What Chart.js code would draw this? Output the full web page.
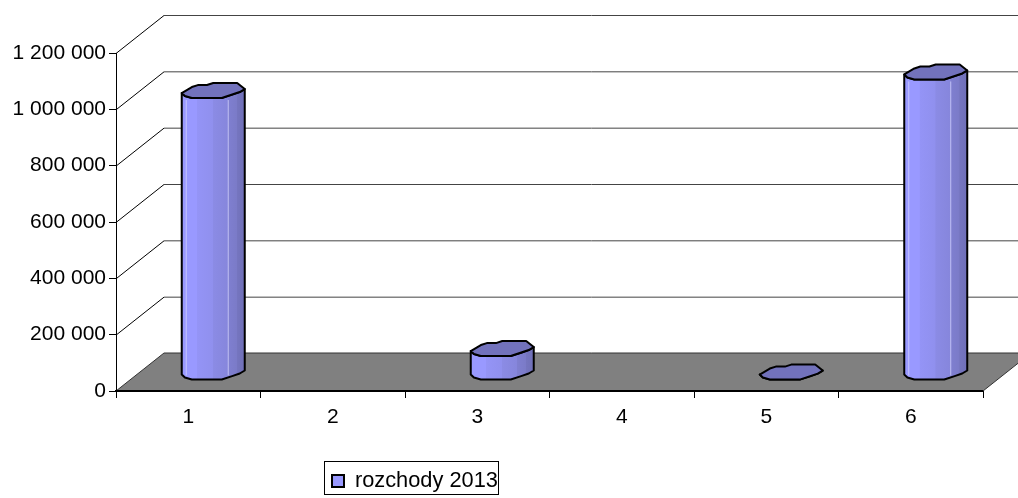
<!DOCTYPE html>
<html>
<head>
<meta charset="utf-8">
<style>html,body{margin:0;padding:0;background:#fff}canvas{display:block}</style>
<script src="https://cdn.jsdelivr.net/npm/chart.js@4"></script>
</head>
<body>
<canvas id="c" width="1018" height="498"></canvas>
<script>
const categories = ['1','2','3','4','5','6'];
const seriesName = 'rozchody 2013';
const values = [1001000, null, 85000, null, 1500, 1067000];
const yMax = 1200000;
const yStep = 200000;

const FONT = 'Liberation Sans';
const DEPTH_X = 48, DEPTH_Y = 38;
const MID_X = 25, MID_Y = 18.5;
// outline of the faceted cylinder cross-section, as fractions of half width / half depth
const TOP_SHAPE = [[-1,.33],[-.68,-.47],[-.49,-.73],[-.2,-.73],[0,-1],[.76,-1],[1,-.2],[.84,.2],[.27,1],[-.68,1],[-.9,.73]];
const FRONT_SHAPE = [[-1,.33],[-.9,.73],[-.68,1],[.27,1],[.6,.55],[.84,.2],[1,-.2]];
const HALF_DEPTH = 7.5;

const scene = {
  id: 'scene',
  afterLayout(chart) {
    const l = chart.legend;
    l.left = 324; l.right = 498; l.top = 462; l.bottom = 494;
    l.width = 174; l.height = 32;
  },
  beforeDatasetsDraw(chart) {
    const {ctx, scales:{x,y}, chartArea:a} = chart;
    ctx.save();
    ctx.beginPath(); ctx.rect(0,0,1018,498); ctx.clip();
    y.ticks.forEach(t => {
      const py = y.getPixelForValue(t.value);
      if (t.value === 0) return;
      ctx.beginPath();
      ctx.lineWidth = 1; ctx.strokeStyle = '#000';
      ctx.moveTo(a.left, py+.5); ctx.lineTo(a.left+DEPTH_X, py-DEPTH_Y+.5);
      ctx.stroke();
      ctx.beginPath();
      ctx.strokeStyle = '#444';
      ctx.moveTo(a.left+DEPTH_X, py-DEPTH_Y+.5); ctx.lineTo(a.right+DEPTH_X, py-DEPTH_Y+.5);
      ctx.stroke();
    });
    const by = y.getPixelForValue(0);
    ctx.beginPath();
    ctx.moveTo(a.left, by);
    ctx.lineTo(a.left+DEPTH_X, by-DEPTH_Y);
    ctx.lineTo(a.right+DEPTH_X, by-DEPTH_Y);
    ctx.lineTo(a.right, by);
    ctx.closePath();
    ctx.fillStyle = '#808080'; ctx.fill();
    ctx.lineWidth = 1; ctx.strokeStyle = '#333'; ctx.stroke();
    ctx.beginPath(); ctx.moveTo(a.left, by); ctx.lineTo(a.right, by);
    ctx.lineWidth = 2; ctx.strokeStyle = '#000'; ctx.stroke();
    ctx.restore();
  },
  afterDatasetsDraw(chart) {
    const {ctx} = chart;
    chart.getDatasetMeta(0).data.forEach((bar, i) => {
      if (values[i] === null) return;
      const p = bar.getProps(['x','y','base','width'], false);
      const cx = p.x + MID_X, hw = p.width / 2;
      const topY = p.y - MID_Y, botY = p.base - MID_Y;
      const pt = (s, cy) => [cx + s[0]*hw, cy + s[1]*HALF_DEPTH];
      const sidePath = () => {
        ctx.beginPath();
        ctx.moveTo(...pt(FRONT_SHAPE[0], topY));
        FRONT_SHAPE.forEach(s => ctx.lineTo(...pt(s, botY)));
        [...FRONT_SHAPE].reverse().forEach(s => ctx.lineTo(...pt(s, topY)));
        ctx.closePath();
      };
      ctx.save();
      ctx.lineJoin = 'round';
      sidePath();
      const g = ctx.createLinearGradient(cx-hw, 0, cx+hw, 0);
      [[0,'#9999ff'],[.24,'#9999ff'],[.25,'#9494f6'],[.49,'#9090ee'],[.5,'#8b8be5'],[.73,'#8686dc'],[.74,'#7f7fd0'],[.87,'#7b7bc8'],[.88,'#7575bf'],[1,'#7070b8']]
        .forEach(c => g.addColorStop(c[0], c[1]));
      ctx.fillStyle = g; ctx.fill();
      if (botY - topY > 30) {
        ctx.strokeStyle = 'rgba(214,214,255,.75)'; ctx.lineWidth = 1;
        [4.5, 46.5].forEach(dx => {
          ctx.beginPath();
          ctx.moveTo(cx-hw+dx, topY+HALF_DEPTH+2);
          ctx.lineTo(cx-hw+dx, botY+HALF_DEPTH-4);
          ctx.stroke();
        });
      }
      sidePath();
      ctx.lineWidth = 2; ctx.strokeStyle = '#000'; ctx.stroke();
      ctx.beginPath();
      TOP_SHAPE.forEach((s,k) => k ? ctx.lineTo(...pt(s, topY)) : ctx.moveTo(...pt(s, topY)));
      ctx.closePath();
      ctx.fillStyle = '#7272bc'; ctx.fill();
      ctx.lineWidth = 2; ctx.strokeStyle = '#000'; ctx.stroke();
      ctx.restore();
    });
  },
  afterDraw(chart) {
    const {ctx} = chart, l = chart.legend;
    ctx.save();
    ctx.strokeStyle = '#000'; ctx.lineWidth = 1;
    ctx.strokeRect(l.left+.5, 461.5, l.right-l.left, 33);
    ctx.restore();
  }
};

new Chart(document.getElementById('c'), {
  type: 'bar',
  data: {
    labels: categories,
    datasets: [{
      label: seriesName,
      data: values,
      backgroundColor: 'rgba(0,0,0,0)',
      borderWidth: 0,
      categoryPercentage: 1,
      barPercentage: 0.436
    }]
  },
  plugins: [scene],
  options: {
    responsive: false,
    animation: false,
    devicePixelRatio: 1,
    layout: { padding: { left: 0, top: 53, right: 35, bottom: 0 } },
    plugins: {
      tooltip: { enabled: false },
      legend: {
        position: 'chartArea',
        align: 'start',
        labels: {
          boxWidth: 12, boxHeight: 12, padding: 8,
          color: '#000',
          font: { family: FONT, size: 21.8 },
          generateLabels: () => [{
            text: seriesName, fillStyle: '#9999ff', strokeStyle: '#000',
            lineWidth: 2, datasetIndex: 0, hidden: false
          }]
        }
      }
    },
    scales: {
      x: {
        afterFit(s) { s.height = 107; },
        grid: { drawOnChartArea: false, drawTicks: true, tickLength: 7, color: '#000', tickColor: '#000' },
        border: { color: '#000', width: 2 },
        ticks: { color: '#000', padding: 7, maxRotation: 0, font: { family: FONT, size: 21 } }
      },
      y: {
        min: 0, max: yMax,
        afterFit(s) { s.width = 116; },
        grid: { drawOnChartArea: false, drawTicks: true, tickLength: 7, color: '#000', tickColor: '#000' },
        border: { color: '#000', width: 1 },
        ticks: {
          stepSize: yStep, color: '#000', padding: 3,
          font: { family: FONT, size: 21 },
          callback: v => String(v).replace(/\B(?=(\d{3})+$)/g, ' ')
        }
      }
    }
  }
});
</script>
</body>
</html>
